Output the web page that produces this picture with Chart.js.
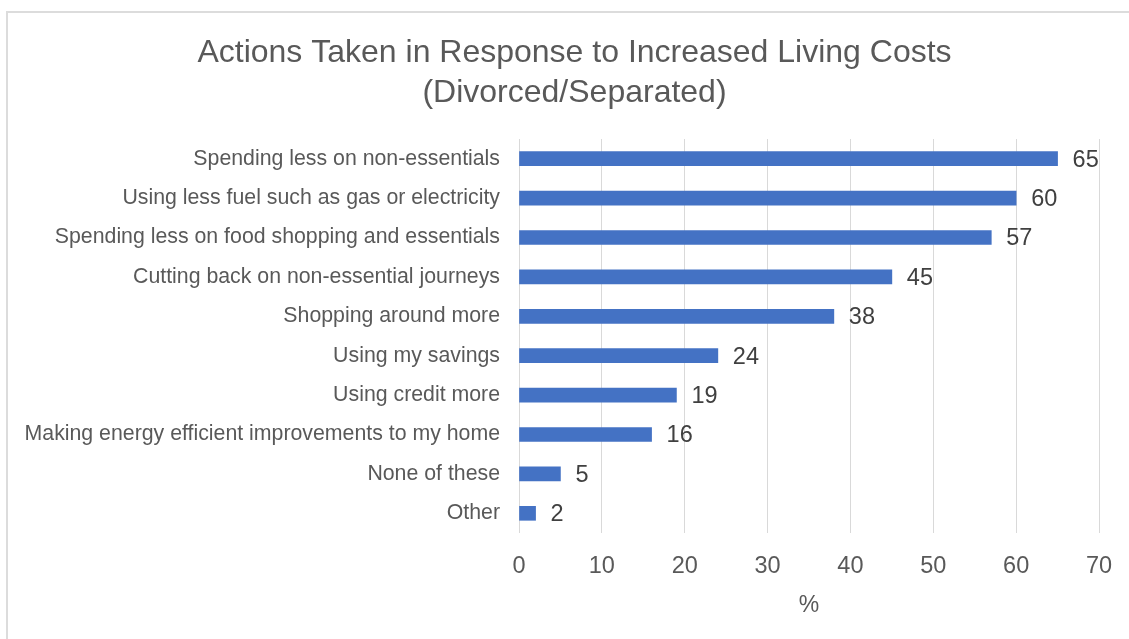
<!DOCTYPE html>
<html>
<head>
<meta charset="utf-8">
<script src="https://cdn.jsdelivr.net/npm/chart.js@4/dist/chart.umd.min.js"></script>
<style>
  html, body { margin: 0; padding: 0; background: #ffffff; }
  #wrap { position: relative; width: 1129px; height: 639px; overflow: hidden; }
  #frame {
    position: absolute; left: 6px; top: 11px; width: 1200px; height: 700px;
    border-top: 2px solid #dcdcdc; border-left: 2px solid #dcdcdc;
    box-sizing: border-box; pointer-events: none;
  }
  canvas { position: absolute; left: 0; top: 0; }
</style>
</head>
<body>
<div id="wrap">
  <div id="frame"></div>
  <canvas id="chart" width="1129" height="639"></canvas>
</div>
<script>
// Survey responses, percent of divorced/separated respondents
const categories = [
  "Spending less on non-essentials",
  "Using less fuel such as gas or electricity",
  "Spending less on food shopping and essentials",
  "Cutting back on non-essential journeys",
  "Shopping around more",
  "Using my savings",
  "Using credit more",
  "Making energy efficient improvements to my home",
  "None of these",
  "Other"
];
const percentValues = [65, 60, 57, 45, 38, 24, 19, 16, 5, 2];
const titleLines = ["Actions Taken in Response to Increased Living Costs", "(Divorced/Separated)"];
const axisTitle = "%";
const xMin = 0, xMax = 70, xStep = 10;

const FONT = "'Liberation Sans', Arial, sans-serif";

// Two-line chart heading, centred on the whole card
const headingText = {
  id: 'headingText',
  afterDraw(chart) {
    const ctx = chart.ctx;
    ctx.save();
    ctx.font = "32px " + FONT;
    ctx.fillStyle = "#595959";
    ctx.textAlign = "center";
    ctx.textBaseline = "middle";
    titleLines.forEach((line, i) => ctx.fillText(line, 574.5, 53 + i * 40));
    ctx.restore();
  }
};

// Writes each bar's value just past its end
const valueLabels = {
  id: 'valueLabels',
  afterDatasetsDraw(chart) {
    const ctx = chart.ctx;
    const meta = chart.getDatasetMeta(0);
    ctx.save();
    ctx.font = "23.5px " + FONT;
    ctx.fillStyle = "#404040";
    ctx.textAlign = "left";
    ctx.textBaseline = "middle";
    meta.data.forEach((bar, i) => {
      ctx.fillText(String(chart.data.datasets[0].data[i]), bar.x + 15, bar.y + 1.5);
    });
    ctx.restore();
  }
};

new Chart(document.getElementById('chart'), {
  type: 'bar',
  data: {
    labels: categories,
    datasets: [{
      data: percentValues,
      backgroundColor: '#4472C4',
      borderWidth: 0,
      barThickness: 14
    }]
  },
  options: {
    indexAxis: 'y',
    responsive: false,
    animation: false,
    layout: { padding: { left: 0, right: 30, top: 139, bottom: 0 } },
    plugins: {
      legend: { display: false },
      tooltip: { enabled: false },
      title: { display: false }
    },
    scales: {
      x: {
        min: xMin,
        max: xMax,
        ticks: {
          stepSize: xStep,
          color: '#595959',
          font: { family: FONT, size: 23.5 },
          padding: 19
        },
        grid: { color: '#d9d9d9', lineWidth: 1, drawTicks: false },
        border: { display: false },
        title: {
          display: true,
          text: axisTitle,
          color: '#595959',
          font: { family: FONT, size: 23 },
          padding: { top: 0, bottom: 20 }
        },
        afterFit(scale) {
          scale.height = 106;
          scale.paddingLeft = 0;
          scale.paddingRight = 0;
        }
      },
      y: {
        ticks: {
          color: '#595959',
          font: { family: FONT, size: 21.3 },
          padding: 19,
          autoSkip: false
        },
        grid: { display: false, drawTicks: false },
        border: { display: false },
        afterFit(scale) { scale.width = 519; }
      }
    }
  },
  plugins: [valueLabels, headingText]
});
</script>
</body>
</html>
